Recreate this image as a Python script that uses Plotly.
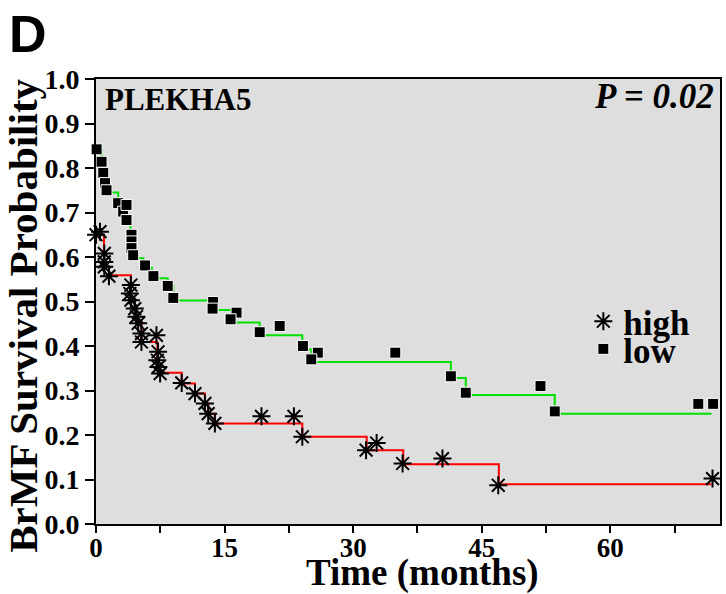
import plotly.graph_objects as go

# ---- Kaplan-Meier step curves (time in months, survival probability) ----
low_step_t = [0, 0.65, 0.85, 1.05, 1.23, 2.59, 3.17, 3.56, 4.02, 4.34, 5.53, 6.51, 8.37, 9.02,
              13.49, 15.81, 19.1, 24.07, 25.12, 41.4, 43.14, 53.52, 71.8]
low_step_s = [0.842, 0.814, 0.789, 0.766, 0.745, 0.721, 0.702, 0.683, 0.626, 0.597, 0.576, 0.552, 0.535, 0.502,
              0.481, 0.453, 0.424, 0.392, 0.364, 0.328, 0.290, 0.248, 0.248]

high_step_t = [0, 0.93, 1.51, 4.07, 4.53, 4.72, 4.92, 5.3, 7.16, 7.48, 10.0, 11.55, 12.71, 13.09,
               13.87, 24.07, 31.58, 35.85, 47.0, 71.8]
high_step_s = [0.650, 0.578, 0.559, 0.503, 0.484, 0.466, 0.451, 0.409, 0.353, 0.340, 0.316, 0.293, 0.271, 0.248,
               0.226, 0.196, 0.166, 0.134, 0.0895, 0.0895]

# ---- plotted observation marks ----
low_mark_t = [0.07, 0.65, 0.85, 1.05, 1.23, 2.59, 3.17, 3.56, 3.56, 4.14, 4.14, 4.14, 4.34, 5.73, 6.70, 8.37,
              9.02, 13.67, 13.6, 16.4, 15.7, 19.1, 21.43, 24.14, 25.88, 25.12, 34.92, 41.4, 43.14, 51.86,
              53.52, 70.27, 72.0]
low_mark_s = [0.842, 0.814, 0.789, 0.766, 0.750, 0.721, 0.702, 0.717, 0.683, 0.650, 0.635, 0.620, 0.604, 0.581,
              0.557, 0.535, 0.508, 0.499, 0.484, 0.475, 0.460, 0.431, 0.445, 0.400, 0.385, 0.370, 0.385, 0.332,
              0.295, 0.310, 0.253, 0.270, 0.270]

high_mark_t = [0.0, 0.47, 0.97, 0.97, 0.97, 1.51, 4.07, 3.95, 4.07, 4.53, 4.72, 4.92, 5.3, 7.05, 5.3, 7.24,
               7.16, 7.28, 7.48, 10.0, 11.55, 12.71, 13.09, 13.87, 19.3, 23.09, 24.07, 31.51, 32.74, 35.77,
               40.42, 46.93, 71.93]
high_mark_s = [0.650, 0.657, 0.608, 0.589, 0.578, 0.557, 0.537, 0.518, 0.503, 0.484, 0.466, 0.451, 0.428, 0.424,
               0.409, 0.387, 0.368, 0.353, 0.338, 0.317, 0.293, 0.271, 0.248, 0.226, 0.242, 0.242, 0.196, 0.166,
               0.182, 0.136, 0.147, 0.087, 0.102]

x_ticks = [0, 15, 30, 45, 60]
y_ticks = [0.0, 0.1, 0.2, 0.3, 0.4, 0.5, 0.6, 0.7, 0.8, 0.9, 1.0]

SERIF = "Liberation Serif"

fig = go.Figure()
fig.add_trace(go.Scatter(x=low_step_t, y=low_step_s, mode="lines", line=dict(color="#00e000", width=2, shape="hv"),
                         showlegend=False, hoverinfo="skip"))
fig.add_trace(go.Scatter(x=high_step_t, y=high_step_s, mode="lines", line=dict(color="#ff0000", width=2, shape="hv"),
                         showlegend=False, hoverinfo="skip"))
fig.add_trace(go.Scatter(x=low_mark_t, y=low_mark_s, mode="markers", name="low", legend="legend2",
                         marker=dict(symbol="square", size=11, color="black", line=dict(color="white", width=1)),
                         cliponaxis=False))
fig.add_trace(go.Scatter(x=high_mark_t, y=high_mark_s, mode="markers", name="high", legend="legend",
                         marker=dict(symbol="asterisk-open", size=15, color="black", line=dict(color="black", width=2)),
                         cliponaxis=False))

fig.update_layout(
    width=726, height=594,
    margin=dict(l=96, r=4, t=79, b=70),
    paper_bgcolor="white",
    plot_bgcolor="#dedede",
    font=dict(family=SERIF, color="black"),
    legend=dict(x=0.781, y=0.455, xanchor="left", yanchor="middle", bgcolor="rgba(0,0,0,0)",
                font=dict(family=SERIF, size=35, color="black", weight="bold"), itemwidth=30),
    legend2=dict(x=0.781, y=0.393, xanchor="left", yanchor="middle", bgcolor="rgba(0,0,0,0)",
                 font=dict(family=SERIF, size=35, color="black", weight="bold"), itemwidth=30),
    xaxis=dict(range=[0, 72.8], tickvals=x_ticks, ticktext=[str(v) for v in x_ticks],
               showgrid=False, zeroline=False, showline=True, linecolor="black", linewidth=2, mirror=True,
               ticks="outside", ticklen=7, tickwidth=2, tickcolor="black", ticklabelstandoff=-8,
               tickfont=dict(family=SERIF, size=27, color="black", weight="bold"),
               minor=dict(dtick=7.5, tick0=0, ticks="outside", ticklen=7, tickwidth=2, tickcolor="black", showgrid=False)),
    yaxis=dict(range=[0, 1], tickvals=y_ticks, ticktext=[f"{v:.1f}" for v in y_ticks],
               showgrid=False, zeroline=False, showline=True, linecolor="black", linewidth=2, mirror=True,
               ticks="outside", ticklen=9, tickwidth=2, tickcolor="black",
               tickfont=dict(family=SERIF, size=28, color="black", weight="bold")),
    annotations=[
        dict(text="<b>BrMF Survival Probability</b>", xref="paper", yref="paper", x=-0.117, y=0.468,
             textangle=-90, showarrow=False, xanchor="center", yanchor="middle",
             font=dict(family=SERIF, size=41, color="black")),
        dict(text="<b>Time (months)</b>", xref="paper", yref="paper", x=0.524, y=-0.111,
             showarrow=False, xanchor="center", yanchor="middle",
             font=dict(family=SERIF, size=37, color="black")),
        dict(text="<b>D</b>", xref="paper", yref="paper", x=-0.109, y=1.10,
             showarrow=False, xanchor="center", yanchor="middle",
             font=dict(family="Liberation Sans", size=52, color="black")),
        dict(text="<b>PLEKHA5</b>", xref="paper", yref="paper", x=0.011, y=0.955,
             showarrow=False, xanchor="left", yanchor="middle",
             font=dict(family=SERIF, size=31, color="black")),
        dict(text="<b><i>P = 0.02</i></b>", xref="paper", yref="paper", x=0.994, y=0.96,
             showarrow=False, xanchor="right", yanchor="middle",
             font=dict(family=SERIF, size=35, color="black")),
    ],
)

fig.write_html("out.html")
